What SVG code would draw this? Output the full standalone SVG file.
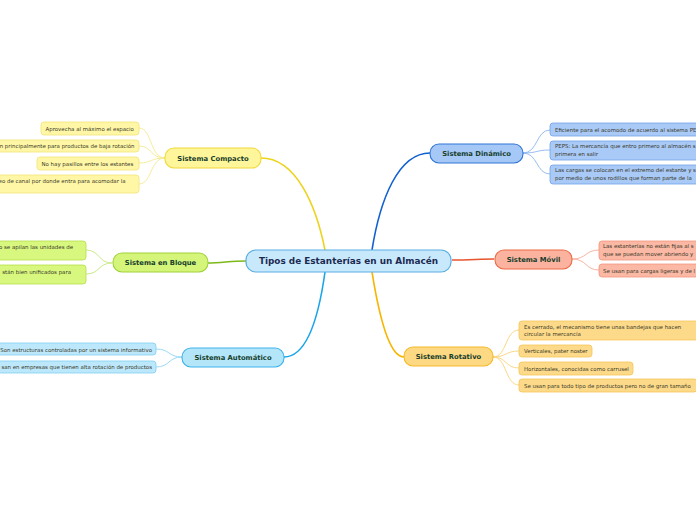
<svg xmlns="http://www.w3.org/2000/svg" width="696" height="520" viewBox="0 0 696 520">
<style>
text{font-family:"DejaVu Sans","Liberation Sans",sans-serif}
.leaf{font-size:5.45px;fill:#3a3a2a}
.br{font-size:6.8px;font-weight:bold;fill:#17402c;text-anchor:middle}
.main{font-size:8.9px;font-weight:bold;fill:#1c2a52;text-anchor:middle}
.c path{fill:none}
.e{text-anchor:end}
.yl{fill:#fff7a6;stroke:#f3e37a;stroke-width:0.8}
.gl{fill:#d8f77e;stroke:#b6e04c;stroke-width:0.8}
.bl{fill:#bde8fb;stroke:#80cff2;stroke-width:0.8}
.dl{fill:#a9c9f6;stroke:#72a3ea;stroke-width:0.8}
.ml{fill:#fbb8a4;stroke:#f3967c;stroke-width:0.8}
.rl{fill:#fdda89;stroke:#f6c55b;stroke-width:0.8}
</style>
<rect width="696" height="520" fill="#ffffff"/>
<g id="connectors" class="c">
<path d="M261,158 C296,158 316,205 325,250" stroke="#ecd31c" stroke-width="1.6"/>
<path d="M372,250 C380,200 398,153 430,153" stroke="#1060d0" stroke-width="1.6"/>
<path d="M325,272 C318,322 306,357 284,357" stroke="#1aa5e9" stroke-width="1.6"/>
<path d="M372,272 C380,322 390,357 404,357" stroke="#f7b500" stroke-width="1.6"/>
<path d="M246,261 C230,261 222,263 208,263" stroke="#7db81a" stroke-width="1.6"/>
<path d="M452,260 C470,260 480,259 494,259" stroke="#e8542f" stroke-width="1.6"/>
<g stroke="#f5ea8e" stroke-width="0.9">
<path d="M165,158 C150,158 152,128 139,128"/>
<path d="M165,158 C150,158 152,146 139,146"/>
<path d="M165,158 C150,158 152,163 139,163"/>
<path d="M165,158 C150,158 152,184 139,184"/>
</g>
<g stroke="#c3e67a" stroke-width="0.9">
<path d="M112,263 C98,263 100,250 86,250"/>
<path d="M112,263 C98,263 100,274 86,274"/>
</g>
<g stroke="#90d6f4" stroke-width="0.9">
<path d="M182,357 C168,357 170,349 156,349"/>
<path d="M182,357 C168,357 170,367 156,367"/>
</g>
<g stroke="#8cb4ef" stroke-width="0.9">
<path d="M523,153 C538,153 536,130 550,130"/>
<path d="M523,153 C538,153 536,150 550,150"/>
<path d="M523,153 C538,153 536,174 550,174"/>
</g>
<g stroke="#f6ab95" stroke-width="0.9">
<path d="M572,259 C587,259 585,250 599,250"/>
<path d="M572,259 C587,259 585,270 599,270"/>
</g>
<g stroke="#f8d27a" stroke-width="0.9">
<path d="M493,357 C507,357 505,330 519,330"/>
<path d="M493,357 C507,357 505,351 519,351"/>
<path d="M493,357 C507,357 505,368 519,368"/>
<path d="M493,357 C507,357 505,385 519,385"/>
</g>
</g>
<g id="central">
<rect x="246" y="250" width="205" height="22" rx="10" fill="#c8e9fb" stroke="#5aaee3" stroke-width="1.2"/>
<text class="main" x="348.5" y="264.3">Tipos de Estanterías en un Almacén</text>
</g>
<g id="compacto">
<rect x="165" y="148" width="96" height="20" rx="9" fill="#fff59a" stroke="#f0d83a" stroke-width="1.1"/>
<text class="br" x="213" y="160.5">Sistema Compacto</text>
</g>
<g id="compacto-1"><rect class="yl" x="41" y="122" width="98" height="13" rx="3"/><text class="leaf" x="45.5" y="130.5">Aprovecha al máximo el espacio</text></g>
<g id="compacto-2"><rect class="yl" x="-10" y="140" width="149" height="12" rx="3"/><text class="leaf e" x="134.5" y="148">n principalmente para productos de baja rotación</text></g>
<g id="compacto-3"><rect class="yl" x="37" y="157" width="102" height="13" rx="3"/><text class="leaf" x="41.5" y="165.5">No hay pasillos entre los estantes</text></g>
<g id="compacto-4"><rect class="yl" x="-10" y="175" width="149" height="18" rx="3"/><text class="leaf e" x="125.5" y="183">eo de canal por donde entra para acomodar la</text></g>
<g id="bloque">
<rect x="113" y="253" width="95" height="19" rx="9" fill="#d4f57a" stroke="#9fd13a" stroke-width="1.1"/>
<text class="br" x="160.5" y="265">Sistema en Bloque</text>
</g>
<g id="bloque-1"><rect class="gl" x="-10" y="241" width="96" height="19" rx="3"/><text class="leaf e" x="73" y="249">o se apilan las unidades de</text></g>
<g id="bloque-2"><rect class="gl" x="-10" y="265" width="96" height="19" rx="3"/><text class="leaf e" x="71" y="274">stán bien unificados para</text></g>
<g id="automatico">
<rect x="182" y="348" width="102" height="19" rx="9" fill="#b4e6fa" stroke="#3fb2ea" stroke-width="1.1"/>
<text class="br" x="233" y="360">Sistema Automático</text>
</g>
<g id="automatico-1"><rect class="bl" x="-10" y="343" width="166" height="12" rx="3"/><text class="leaf e" x="152" y="351.5">Son estructuras controladas por un sistema informativo</text></g>
<g id="automatico-2"><rect class="bl" x="-10" y="361" width="166" height="12" rx="3"/><text class="leaf e" x="152" y="369.3">san en empresas que tienen alta rotación de productos</text></g>
<g id="dinamico">
<rect x="430" y="144" width="93" height="19" rx="9" fill="#a6c8f7" stroke="#2f74d6" stroke-width="1.1"/>
<text class="br" x="476.5" y="156">Sistema Dinámico</text>
</g>
<g id="dinamico-1"><rect class="dl" x="550" y="123" width="160" height="13" rx="3"/><text class="leaf" x="555" y="131.5">Eficiente para el acomodo de acuerdo al sistema PE</text></g>
<g id="dinamico-2"><rect class="dl" x="550" y="141" width="160" height="19" rx="3"/><text class="leaf" x="555" y="148">PEPS: La mercancía que entro primero al almacén s</text><text class="leaf" x="555" y="155.5">primera en salir</text></g>
<g id="dinamico-3"><rect class="dl" x="550" y="165" width="160" height="19" rx="3"/><text class="leaf" x="555" y="172">Las cargas se colocan en el extremo del estante y s</text><text class="leaf" x="555" y="179.5">por medio de unos rodillos que forman parte de la</text></g>
<g id="movil">
<rect x="495" y="250" width="77" height="19" rx="9" fill="#fbb3a0" stroke="#ec6a45" stroke-width="1.1"/>
<text class="br" x="533.5" y="262">Sistema Móvil</text>
</g>
<g id="movil-1"><rect class="ml" x="599" y="241" width="110" height="19" rx="3"/><text class="leaf" x="603" y="248">Las estanterías no están fijas al s</text><text class="leaf" x="603" y="255.5">que se puedan mover abriendo y</text></g>
<g id="movil-2"><rect class="ml" x="599" y="264" width="110" height="13" rx="3"/><text class="leaf" x="603" y="272.5">Se usan para cargas ligeras y de l</text></g>
<g id="rotativo">
<rect x="404" y="347" width="89" height="19" rx="9" fill="#fdd983" stroke="#f5b92c" stroke-width="1.1"/>
<text class="br" x="448.5" y="359">Sistema Rotativo</text>
</g>
<g id="rotativo-1"><rect class="rl" x="519" y="321" width="190" height="19" rx="3"/><text class="leaf" x="524" y="328.5">Es cerrado, el mecanismo tiene unas bandejas que hacen</text><text class="leaf" x="524" y="336">circular la mercancía</text></g>
<g id="rotativo-2"><rect class="rl" x="519" y="345" width="73" height="12" rx="3"/><text class="leaf" x="524" y="353">Verticales, pater noster</text></g>
<g id="rotativo-3"><rect class="rl" x="519" y="362" width="114" height="13" rx="3"/><text class="leaf" x="524" y="370.5">Horizontales, conocidas como carrusel</text></g>
<g id="rotativo-4"><rect class="rl" x="519" y="379" width="178" height="13" rx="3"/><text class="leaf" x="524" y="387.5">Se usan para todo tipo de productos pero no de gran tamaño</text></g>
</svg>
